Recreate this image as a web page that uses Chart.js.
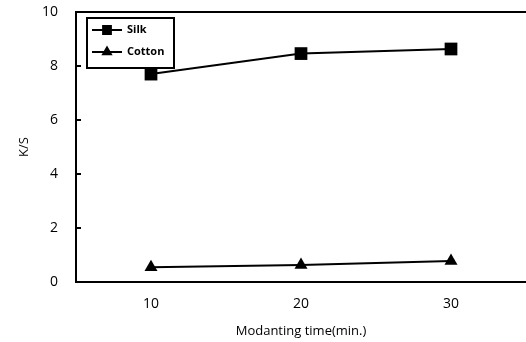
<!DOCTYPE html>
<html>
<head>
<meta charset="utf-8">
<script src="https://cdn.jsdelivr.net/npm/chart.js@4/dist/chart.umd.min.js"></script>
<style>
  html, body { margin: 0; padding: 0; background: #fff; overflow: hidden; }
  canvas { display: block; }
</style>
</head>
<body>
<canvas id="c" width="526" height="342"></canvas>
<script>
// ---- data ----
const times = [10, 20, 30];
const silkKS = [7.7, 8.46, 8.63];
const cottonKS = [0.55, 0.63, 0.78];
const xTicks = [10, 20, 30];
const yTicks = [0, 2, 4, 6, 8, 10];
const seriesNames = ['Silk', 'Cotton'];
const xTitle = 'Modanting time(min.)';
const yTitle = 'K/S';

const FONT = "'Open Sans', 'DejaVu Sans', sans-serif";

const toPoints = (xs, ys) => xs.map((x, i) => ({ x: x, y: ys[i] }));

const framePlugin = {
  id: 'frame',
  afterDraw(chart) {
    const { ctx, chartArea: a, scales: { x, y } } = chart;
    ctx.save();
    ctx.strokeStyle = '#000';
    ctx.lineWidth = 2;
    // top border line
    const top = y.getPixelForValue(yTicks[yTicks.length - 1]);
    ctx.beginPath();
    ctx.moveTo(a.left, top);
    ctx.lineTo(a.right, top);
    ctx.stroke();
    // inward tick marks on y axis
    ctx.beginPath();
    yTicks.slice(1, -1).forEach(v => {
      const py = y.getPixelForValue(v);
      ctx.moveTo(a.left, py);
      ctx.lineTo(a.left + 5, py);
    });
    ctx.stroke();

    // legend box
    const bx = a.left + 11, by = a.top + 6, bw = 87, bh = 50;
    ctx.fillStyle = '#fff';
    ctx.fillRect(bx, by, bw, bh);
    ctx.lineWidth = 2;
    ctx.strokeRect(bx, by, bw, bh);
    chart.data.datasets.forEach((ds, i) => {
      const cy = by + 12 + i * 22;
      ctx.beginPath();
      ctx.lineWidth = 2;
      ctx.moveTo(bx + 5, cy);
      ctx.lineTo(bx + 35, cy);
      ctx.stroke();
      Chart.helpers.drawPoint(ctx, {
        pointStyle: ds.pointStyle,
        radius: ds.pointStyle === 'rect' ? 5.5 : 4.5,
        rotation: 0,
        borderWidth: 1
      }, bx + 20, cy);
      ctx.fillStyle = '#000';
      ctx.fill();
      ctx.fillStyle = '#000';
      ctx.font = "bold 11px " + FONT;
      ctx.textAlign = 'left';
      ctx.textBaseline = 'middle';
      ctx.fillText(ds.label, bx + 40, cy);
    });
    ctx.restore();
  }
};

new Chart(document.getElementById('c'), {
  type: 'line',
  data: {
    datasets: [
      {
        label: seriesNames[0],
        data: toPoints(times, silkKS),
        borderColor: '#000',
        backgroundColor: '#000',
        borderWidth: 2,
        pointStyle: 'rect',
        pointRadius: 9,
        pointBorderWidth: 0,
        tension: 0
      },
      {
        label: seriesNames[1],
        data: toPoints(times, cottonKS),
        borderColor: '#000',
        backgroundColor: '#000',
        borderWidth: 2,
        pointStyle: 'triangle',
        pointRadius: 7.5,
        pointBorderWidth: 0,
        tension: 0
      }
    ]
  },
  options: {
    responsive: false,
    animation: false,
    layout: { autoPadding: false, padding: { top: 12, left: 0, right: 0, bottom: 0 } },
    plugins: {
      legend: { display: false },
      tooltip: { enabled: false }
    },
    scales: {
      x: {
        type: 'linear',
        min: 5,
        max: 35,
        afterBuildTicks: s => { s.ticks = xTicks.map(v => ({ value: v })); },
        afterFit: s => { s.height = 60; s.paddingLeft = 0; s.paddingRight = 0; s.paddingTop = 0; s.paddingBottom = 0; },
        grid: { display: false, drawTicks: false },
        border: { display: true, color: '#000', width: 2 },
        ticks: {
          color: '#000',
          padding: 14,
          font: { family: FONT, size: 14 }
        },
        title: {
          display: true,
          text: xTitle,
          color: '#000',
          font: { family: FONT, size: 13 },
          padding: { top: 0, bottom: 3 }
        }
      },
      y: {
        min: 0,
        max: 10,
        afterBuildTicks: s => { s.ticks = yTicks.map(v => ({ value: v })); },
        afterFit: s => { s.width = 76; s.paddingLeft = 0; s.paddingRight = 0; s.paddingTop = 0; s.paddingBottom = 0; },
        grid: { display: false, drawTicks: false },
        border: { display: true, color: '#000', width: 2 },
        ticks: {
          color: '#000',
          padding: 18,
          font: { family: FONT, size: 14 }
        },
        title: {
          display: true,
          text: yTitle,
          color: '#000',
          font: { family: FONT, size: 13 },
          padding: { top: 16, bottom: 0 }
        }
      }
    }
  },
  plugins: [framePlugin]
});
</script>
</body>
</html>
